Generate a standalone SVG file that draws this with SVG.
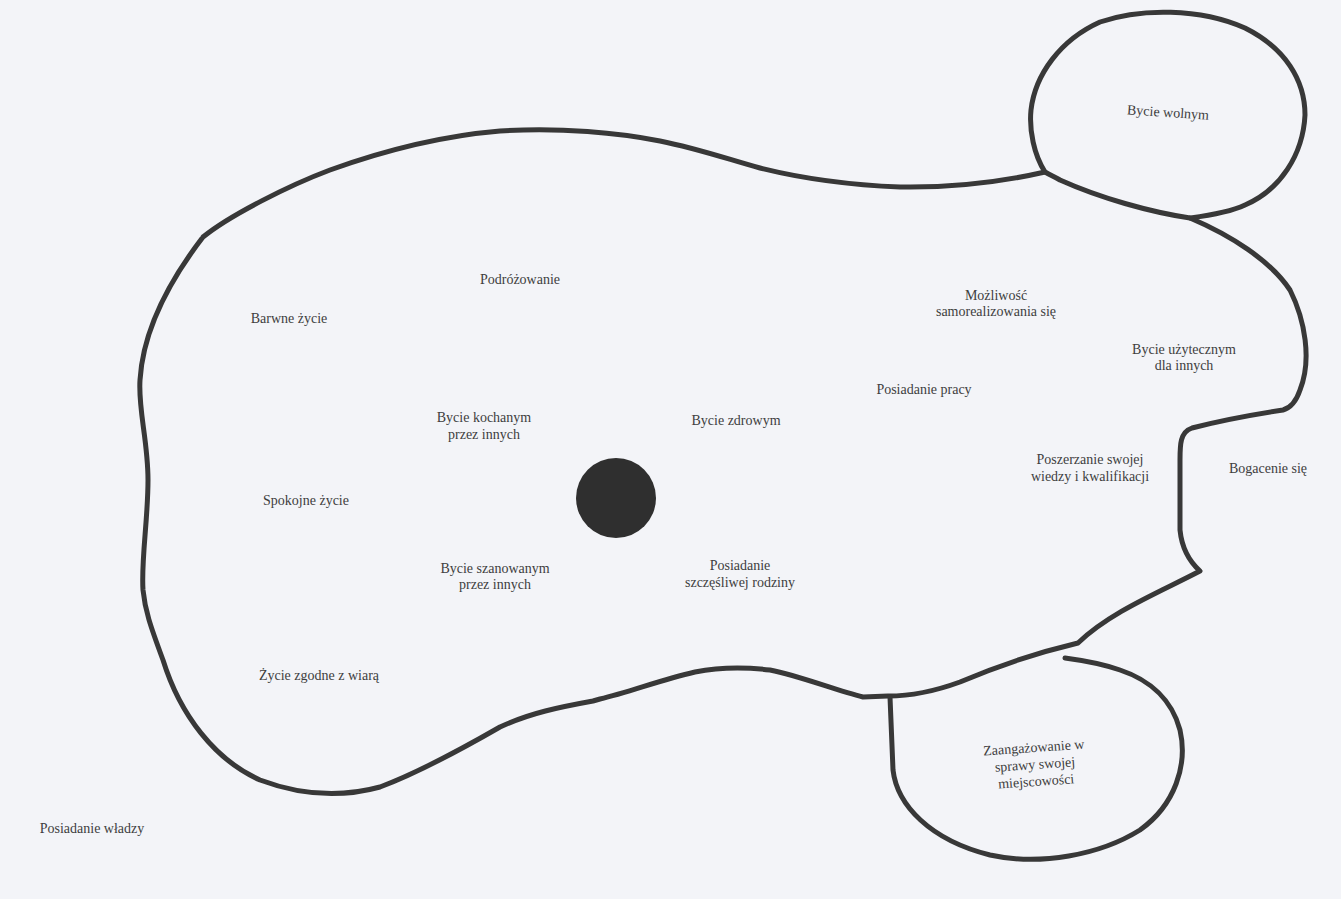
<svg xmlns="http://www.w3.org/2000/svg" width="1341" height="899" viewBox="0 0 1341 899">
<style>
.ln{fill:none;stroke:#383838;stroke-width:5;stroke-linecap:round;stroke-linejoin:round}
.t{font-family:"Liberation Serif","Times New Roman",serif;font-size:14px;fill:#3e3e3e;text-anchor:middle}
</style>
<rect width="1341" height="899" fill="#f3f4f8"/>
<g id="connectors">
<path id="main-outline" class="ln" d="M203,237 C230,215 290,185 330,170 C380,152 440,136 500,131 C560,127 620,133 660,141 C700,149 730,160 760,168 C800,178 850,185 900,187 C960,188 1010,180 1045,172 M1190,218 C1230,235 1270,260 1290,290 C1305,320 1312,360 1300,390 C1296,402 1290,408 1283,410 C1250,415 1215,422 1192,428 C1180,432 1180,445 1180,460 L1180,530 C1182,550 1190,562 1200,571 C1160,592 1110,612 1078,643 C1040,652 1000,665 960,682 C930,693 905,696 888,696 L863,697 C835,690 800,676 770,670 C745,667 720,667 695,672 C660,680 630,692 600,699 L593,701 C560,707 530,713 500,727 C460,750 420,772 380,787 C340,798 300,795 260,780 C215,760 180,715 163,660 C150,625 145,610 143,590 C141,560 148,520 148,480 C148,440 138,410 140,380 C143,330 170,280 203,237"/>
</g>
<g id="node-wolnym">
<path class="ln" d="M1045,172 C1034,155 1029,130 1031,110 C1035,75 1060,40 1100,22 C1140,8 1200,8 1245,28 C1285,48 1305,80 1305,115 C1303,155 1280,190 1245,205 C1228,213 1205,216 1190,218 C1150,212 1100,198 1060,180 C1055,177 1050,175 1045,172"/>
<text class="t" x="1168" y="117" transform="rotate(4 1168 113)">Bycie wolnym</text>
</g>
<g id="node-zaangazowanie">
<path class="ln" d="M890,697 C891,720 892,745 893,770 C897,805 930,840 990,855 C1040,866 1100,855 1140,830 C1175,805 1188,765 1180,730 C1172,700 1150,680 1120,670 C1100,663 1080,660 1065,658"/>
<text class="t" transform="rotate(-4 1035 765)"><tspan x="1035" y="752">Zaangażowanie w</tspan><tspan x="1035" y="769">sprawy swojej</tspan><tspan x="1035" y="786">miejscowości</tspan></text>
</g>
<g id="center-dot">
<circle cx="616" cy="498" r="40" fill="#2f2f2f"/>
</g>
<g id="node-podrozowanie"><text class="t" x="520" y="284">Podróżowanie</text></g>
<g id="node-barwne"><text class="t" x="289" y="323">Barwne życie</text></g>
<g id="node-mozliwosc"><text class="t"><tspan x="996" y="300">Możliwość</tspan><tspan x="996" y="316">samorealizowania się</tspan></text></g>
<g id="node-uzytecznym"><text class="t"><tspan x="1184" y="354">Bycie użytecznym</tspan><tspan x="1184" y="370">dla innych</tspan></text></g>
<g id="node-praca"><text class="t" x="924" y="394">Posiadanie pracy</text></g>
<g id="node-kochanym"><text class="t"><tspan x="484" y="422">Bycie kochanym</tspan><tspan x="484" y="439">przez innych</tspan></text></g>
<g id="node-zdrowym"><text class="t" x="736" y="425">Bycie zdrowym</text></g>
<g id="node-poszerzanie"><text class="t"><tspan x="1090" y="464">Poszerzanie swojej</tspan><tspan x="1090" y="481">wiedzy i kwalifikacji</tspan></text></g>
<g id="node-bogacenie"><text class="t" x="1268" y="473">Bogacenie się</text></g>
<g id="node-spokojne"><text class="t" x="306" y="505">Spokojne życie</text></g>
<g id="node-szanowanym"><text class="t"><tspan x="495" y="573">Bycie szanowanym</tspan><tspan x="495" y="589">przez innych</tspan></text></g>
<g id="node-rodzina"><text class="t"><tspan x="740" y="570">Posiadanie</tspan><tspan x="740" y="587">szczęśliwej rodziny</tspan></text></g>
<g id="node-wiara"><text class="t" x="319" y="680">Życie zgodne z wiarą</text></g>
<g id="node-wladza"><text class="t" x="92" y="833">Posiadanie władzy</text></g>
</svg>
